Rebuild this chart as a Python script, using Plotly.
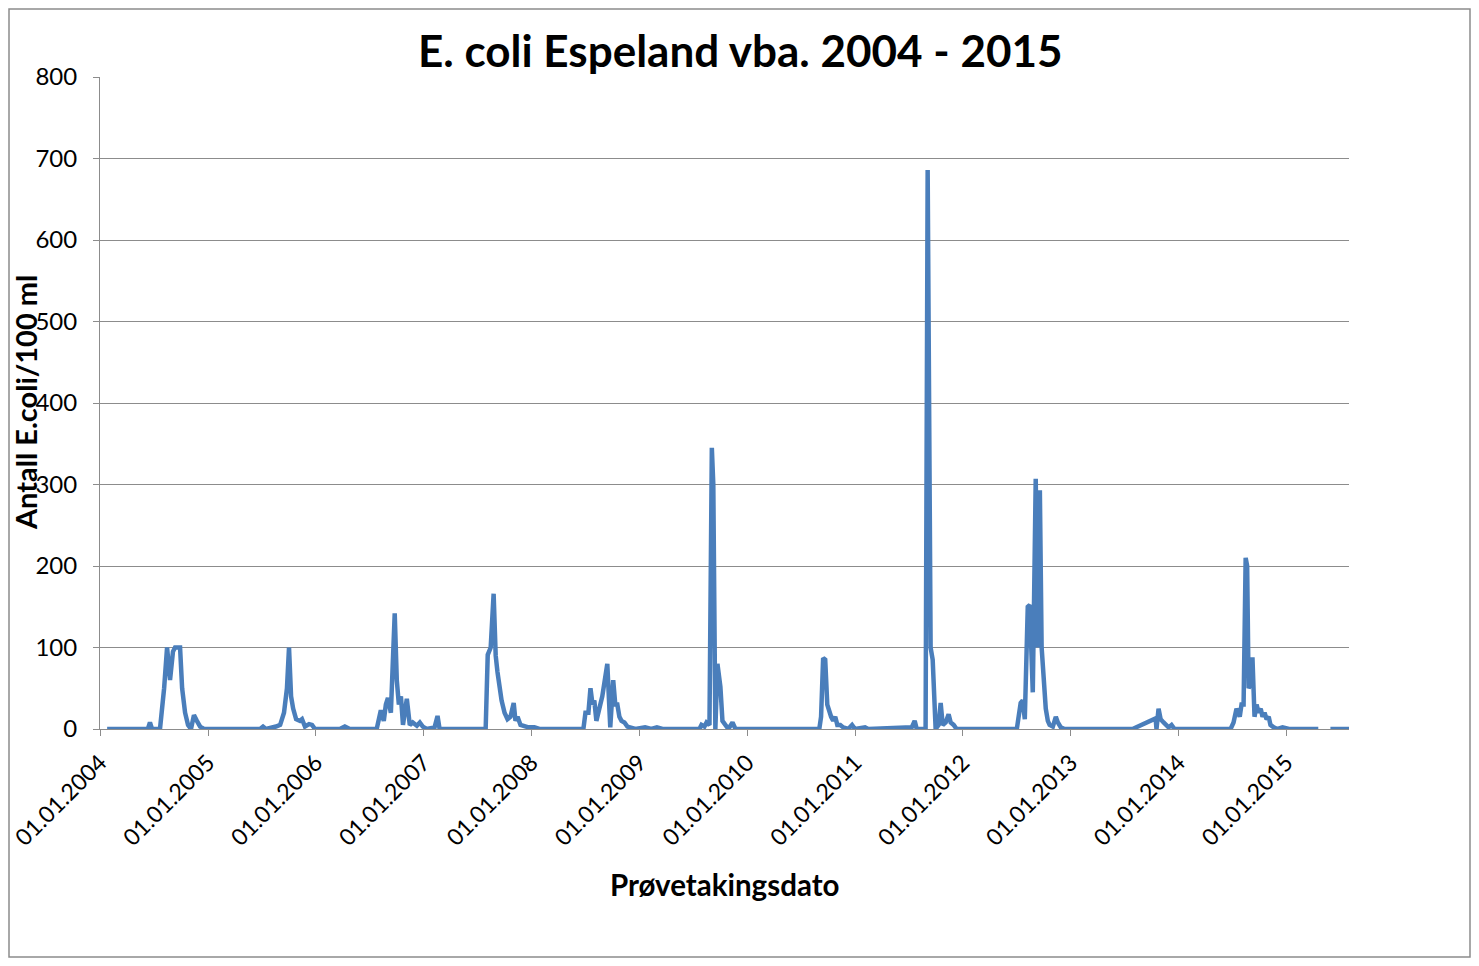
import plotly.graph_objects as go

dates = [
    "2004-01-25", "2004-03-15", "2004-05-15", "2004-06-11", "2004-06-18", "2004-06-25", "2004-07-22",
    "2004-08-05", "2004-08-15", "2004-08-25", "2004-09-04", "2004-09-11", "2004-09-28", "2004-10-05",
    "2004-10-15", "2004-10-25", "2004-11-04", "2004-11-14", "2004-11-24", "2004-12-05", "2004-12-18",
    "2005-03-01", "2005-06-26", "2005-07-06", "2005-07-16", "2005-08-19", "2005-09-02", "2005-09-15",
    "2005-09-25", "2005-10-02", "2005-10-09", "2005-10-16", "2005-10-26", "2005-11-08", "2005-11-15",
    "2005-11-25", "2005-12-09", "2005-12-19", "2005-12-29",
    "2006-03-23", "2006-04-09", "2006-04-26", "2006-07-26", "2006-08-09", "2006-08-19", "2006-08-26",
    "2006-09-02", "2006-09-12", "2006-09-19", "2006-09-25", "2006-10-02", "2006-10-09", "2006-10-16",
    "2006-10-23", "2006-10-29", "2006-11-05", "2006-11-15", "2006-11-25", "2006-12-09", "2006-12-19",
    "2006-12-29",
    "2007-01-11", "2007-02-07", "2007-02-17", "2007-02-24", "2007-03-13", "2007-07-30", "2007-08-06",
    "2007-08-16", "2007-08-26", "2007-09-02", "2007-09-08", "2007-09-15", "2007-09-22", "2007-10-02",
    "2007-10-12", "2007-10-22", "2007-11-02", "2007-11-08", "2007-11-15", "2007-11-25", "2007-12-09",
    "2007-12-22",
    "2008-01-11", "2008-01-28", "2008-06-25", "2008-07-02", "2008-07-12", "2008-07-19", "2008-07-26",
    "2008-08-01", "2008-08-08", "2008-08-18", "2008-08-28", "2008-09-14", "2008-09-24", "2008-10-04",
    "2008-10-11", "2008-10-18", "2008-10-25", "2008-11-01", "2008-11-11", "2008-11-21", "2008-12-04",
    "2008-12-18",
    "2009-01-20", "2009-02-10", "2009-03-01", "2009-03-20", "2009-07-23", "2009-07-30", "2009-08-09",
    "2009-08-16", "2009-08-26", "2009-09-03", "2009-09-08", "2009-09-15", "2009-09-22", "2009-10-02",
    "2009-10-09", "2009-10-19", "2009-10-29", "2009-11-12", "2009-11-22",
    "2010-09-02", "2010-09-08", "2010-09-15", "2010-09-22", "2010-09-29", "2010-10-06", "2010-10-12",
    "2010-10-19", "2010-10-26", "2010-11-02", "2010-11-12", "2010-11-22", "2010-12-09", "2010-12-22",
    "2011-01-01", "2011-02-04", "2011-02-15", "2011-07-12", "2011-07-22", "2011-07-29", "2011-08-28",
    "2011-09-04", "2011-09-09", "2011-09-14", "2011-09-21", "2011-10-01", "2011-10-11", "2011-10-18",
    "2011-10-25", "2011-11-04", "2011-11-14", "2011-11-21", "2011-12-01", "2011-12-11",
    "2012-07-02", "2012-07-09", "2012-07-15", "2012-07-22", "2012-07-29", "2012-08-08", "2012-08-15",
    "2012-08-25", "2012-09-04", "2012-09-11", "2012-09-18", "2012-09-24", "2012-10-01", "2012-10-08",
    "2012-10-15", "2012-10-21", "2012-11-01", "2012-11-11", "2012-11-18", "2012-11-28", "2012-12-11",
    "2013-03-01", "2013-07-29", "2013-10-15", "2013-10-18", "2013-10-25", "2013-11-01", "2013-11-11",
    "2013-11-18", "2013-11-28", "2013-12-08", "2013-12-18",
    "2014-06-26", "2014-07-06", "2014-07-16", "2014-07-27", "2014-08-02", "2014-08-09", "2014-08-16",
    "2014-08-21", "2014-08-26", "2014-09-02", "2014-09-08", "2014-09-15", "2014-09-22", "2014-09-29",
    "2014-10-06", "2014-10-12", "2014-10-19", "2014-10-26", "2014-11-02", "2014-11-08", "2014-11-19",
    "2014-12-02", "2014-12-19",
    "2015-01-10", "2015-04-19", "2015-05-10", "2015-05-30", "2015-08-01",
]

ecoli = [
    0, 0, 0, 0, 8, 0, 0,
    50, 100, 60, 95, 100, 100, 50,
    20, 5, 0, 17, 10, 3, 0,
    0, 0, 3, 0, 3, 5, 20,
    50, 100, 40, 25, 12, 10, 12,
    3, 6, 5, 0,
    0, 3, 0, 0, 23, 10, 30,
    38, 20, 80, 142, 60, 30, 40,
    5, 20, 37, 5, 8, 4, 8,
    3,
    0, 2, 16, 0, 0, 0, 91,
    100, 166, 90, 70, 50, 35, 20,
    12, 15, 32, 10, 15, 5, 3,
    2,
    2, 0, 0, 20, 20, 50, 30,
    35, 10, 25, 40, 80, 2, 60,
    30, 30, 15, 10, 8, 3, 2,
    0,
    2, 0, 2, 0, 0, 5, 3,
    8, 5, 345, 300, 0, 80, 52,
    10, 5, 0, 8, 0,
    0, 15, 87, 85, 30, 20, 15,
    10, 15, 5, 5, 2, 0, 5,
    0, 2, 0, 2, 10, 0, 0,
    686, 440, 100, 85, 0, 5, 32,
    5, 8, 18, 8, 5, 0,
    0, 20, 32, 35, 12, 150, 152,
    45, 307, 100, 293, 100, 52, 25,
    10, 5, 3, 15, 8, 2, 0,
    0, 0, 13, 0, 25, 12, 8,
    5, 2, 5, 0,
    0, 8, 25, 15, 30, 30, 210,
    200, 50, 55, 88, 15, 30, 20,
    25, 15, 20, 12, 15, 5, 2,
    0, 2,
    0, 0, None, 0, 0,
]

tick_dates = [f"{y}-01-01" for y in range(2004, 2016)]
tick_labels = [f"01.01.{y}" for y in range(2004, 2016)]
y_ticks = [0, 100, 200, 300, 400, 500, 600, 700, 800]

FONT = "Lato"
GRID = "#8c8c8c"

# figure is placed at page offset (8, 8) by the default body margin
FIG_W, FIG_H = 1463, 950
ML, MT, PW, PH = 92, 69, 1249, 652

fig = go.Figure()
fig.add_trace(go.Scatter(
    x=dates, y=ecoli, mode="lines",
    line=dict(color="#4a7ebb", width=4.5),
    connectgaps=False, showlegend=False,
))

fig.update_layout(
    width=FIG_W, height=FIG_H,
    margin=dict(l=ML, r=FIG_W - ML - PW, t=MT, b=FIG_H - MT - PH, autoexpand=False),
    paper_bgcolor="white", plot_bgcolor="white",
    font=dict(family=FONT, color="#000000", size=24),
    showlegend=False,
)

fig.update_xaxes(
    type="date",
    range=["2003-12-31 20:00", "2015-08-01"],
    tickmode="array", tickvals=tick_dates, ticktext=tick_labels,
    tickangle=-45, tickfont=dict(family=FONT, size=23, color="#000000"),
    ticks="outside", ticklen=6, tickcolor=GRID,
    showline=True, linecolor=GRID, linewidth=1,
    showgrid=False, zeroline=False, ticklabelstandoff=4,
    ticklabeloverflow="allow", automargin=False,
)
fig.update_yaxes(
    range=[0, 800], tickvals=y_ticks,
    tickfont=dict(family=FONT, size=24, color="#000000"),
    ticks="outside", ticklen=6, tickcolor=GRID,
    showline=True, linecolor=GRID, linewidth=1,
    showgrid=True, gridcolor=GRID, gridwidth=1,
    zeroline=False, ticklabelstandoff=11, automargin=False,
)

fig.add_annotation(
    text="<b>E. coli Espeland vba. 2004 - 2015</b>",
    xref="paper", yref="paper", x=(739.5 - 100) / PW, y=(729 - 50) / PH,
    xanchor="center", yanchor="middle", showarrow=False,
    font=dict(family=FONT, size=44, color="#000000"),
)
fig.add_annotation(
    text="<b>Antall E.coli/100 ml</b>",
    xref="paper", yref="paper", x=(25 - 100) / PW, y=(729 - 403) / PH,
    xanchor="center", yanchor="middle", textangle=-90, showarrow=False,
    font=dict(family=FONT, size=29, color="#000000"),
)
fig.add_annotation(
    text="<b>Prøvetakingsdato</b>",
    xref="paper", yref="paper", x=0.5, y=(729 - 884) / PH,
    xanchor="center", yanchor="middle", showarrow=False,
    font=dict(family=FONT, size=29.5, color="#000000"),
)

# chart-area border drawn just inside the figure edges
fig.add_shape(
    type="rect", xref="paper", yref="paper",
    x0=(1 - ML) / PW, x1=(FIG_W - 1 - ML) / PW,
    y0=-(FIG_H - 1 - MT - PH) / PH, y1=(MT - 1 + PH) / PH,
    line=dict(color="#8c8c8c", width=1.5), fillcolor="rgba(0,0,0,0)", layer="below",
)

fig.write_html("out.html")
